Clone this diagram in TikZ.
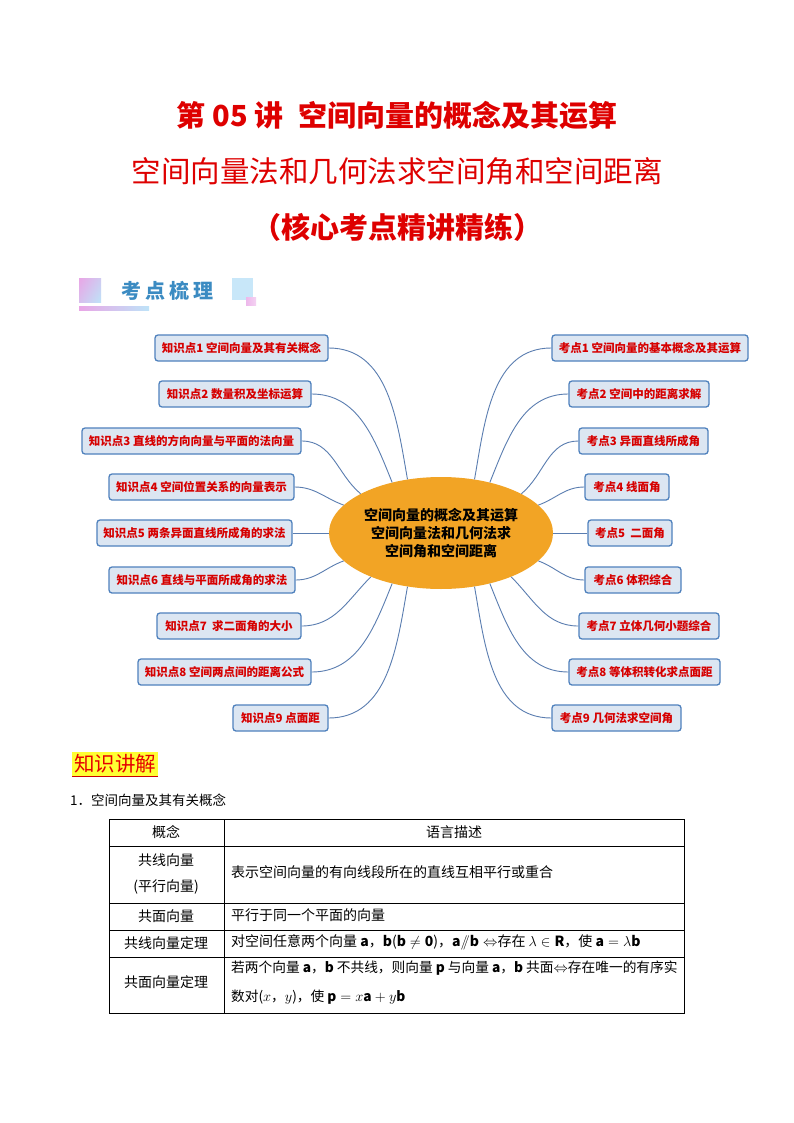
\documentclass[tikz,border=0pt]{standalone}
\usepackage{fontspec}
\setmainfont{Noto Sans CJK SC}
\newfontfamily\cjk{Noto Sans CJK SC}
\usetikzlibrary{shapes.geometric,shadings}
\definecolor{titlered}{RGB}{222,0,0}
\definecolor{boxred}{RGB}{214,0,0}
\definecolor{boxfill}{HTML}{DCE6F2}
\definecolor{boxblue}{HTML}{4F81BD}
\definecolor{connblue}{HTML}{5A7DB0}
\definecolor{ellorange}{HTML}{F2A425}
\definecolor{bannerblue}{HTML}{3B8BC2}
\definecolor{bpink}{HTML}{E9A6E6}
\definecolor{blight}{HTML}{BEE3F8}
\definecolor{hlyellow}{HTML}{FFFF33}
\tikzset{
  titletext/.style={text=titlered, font=\cjk\bfseries\fontsize{29}{34}\selectfont, inner sep=0pt},
  kbox/.style={draw=boxblue, fill=boxfill, line width=1.3pt, rounded corners=3pt,
    text=boxred, font=\cjk\bfseries\fontsize{11.5}{13}\selectfont, minimum height=26pt, inner sep=2pt},
  conn/.style={draw=connblue, line width=0.9pt},
  cell/.style={font=\cjk\fontsize{14}{16}\selectfont, inner sep=0pt},
  tline/.style={draw=black, line width=0.8pt}
}
\begin{document}
\begin{tikzpicture}[x=1pt,y=1pt]
\useasboundingbox (0,0) rectangle (794,-1123);
\fill[white] (0,0) rectangle (794,-1123);

% titles
\node[titletext] (t1) at (397,-115) {第 05 讲\hspace{0.5em}空间向量的概念及其运算};
\node[titletext, font=\cjk\fontsize{29.5}{36}\selectfont] (t2) at (397,-171) {空间向量法和几何法求空间角和空间距离};
\node[titletext] (t3) at (397,-227) {（核心考点精讲精练）};

% banner
\shade[upper left=bpink, lower right=blight, upper right=blight!60!bpink, lower left=bpink!60!blight] (79,-278) rectangle (101,-302);
\fill[blight!85!white] (232,-278) rectangle (253,-300);
\shade[left color=bpink!80, right color=bpink!50!white] (246,-297) rectangle (256,-305);
\shade[left color=bpink, right color=blight] (79,-306) rectangle (149,-310);
\node[text=bannerblue, font=\cjk\bfseries\fontsize{20}{24}\selectfont, inner sep=0pt] (kd) at (167,-291) {考\hspace{4pt}点\hspace{4pt}梳\hspace{4pt}理};

% central ellipse
\node[ellipse, fill=ellorange, minimum width=224pt, minimum height=112pt, inner sep=0pt, align=center,
  font=\cjk\bfseries\fontsize{14}{18}\selectfont] (e) at (441,-533)
  {空间向量的概念及其运算\\空间向量法和几何法求\\空间角和空间距离};

% left boxes
\node[kbox, minimum width=173pt] (L1) at (241.5,-348) {知识点1 空间向量及其有关概念};
\node[kbox, minimum width=152pt] (L2) at (235,-394) {知识点2 数量积及坐标运算};
\node[kbox, minimum width=219pt] (L3) at (191.5,-441) {知识点3 直线的方向向量与平面的法向量};
\node[kbox, minimum width=185pt] (L4) at (201.5,-487) {知识点4 空间位置关系的向量表示};
\node[kbox, minimum width=195pt] (L5) at (194.5,-533) {知识点5 两条异面直线所成角的求法};
\node[kbox, minimum width=186pt] (L6) at (202,-580) {知识点6 直线与平面所成角的求法};
\node[kbox, minimum width=144pt] (L7) at (229,-626) {知识点7\ \ 求二面角的大小};
\node[kbox, minimum width=173pt] (L8) at (224.5,-672) {知识点8 空间两点间的距离公式};
\node[kbox, minimum width=95pt] (L9) at (280.5,-718) {知识点9 点面距};

% right boxes
\node[kbox, minimum width=196pt] (R1) at (650,-348) {考点1 空间向量的基本概念及其运算};
\node[kbox, minimum width=140pt] (R2) at (639,-394) {考点2 空间中的距离求解};
\node[kbox, minimum width=129pt] (R3) at (643.5,-441) {考点3 异面直线所成角};
\node[kbox, minimum width=84pt] (R4) at (627,-487) {考点4 线面角};
\node[kbox, minimum width=84pt] (R5) at (630,-533) {考点5\ \ 二面角};
\node[kbox, minimum width=96pt] (R6) at (633,-580) {考点6 体积综合};
\node[kbox, minimum width=140pt] (R7) at (649,-626) {考点7 立体几何小题综合};
\node[kbox, minimum width=151pt] (R8) at (644.5,-672) {考点8 等体积转化求点面距};
\node[kbox, minimum width=129pt] (R9) at (616.5,-718) {考点9 几何法求空间角};

% connectors
\foreach \n/\a/\i in {L1/122/100, L2/134/112, L3/154/140, L4/164/160, L6/196/200, L7/212/225, L8/226/248, L9/238/260}
  \draw[conn] (\n.east) to[out=0,in=\i] (e.\a);
\draw[conn] (L5.east) -- (e.west);
\foreach \n/\a/\i in {R1/58/80, R2/46/68, R3/26/40, R4/16/20, R6/344/340, R7/328/315, R8/314/292, R9/302/280}
  \draw[conn] (\n.west) to[out=180,in=\i] (e.\a);
\draw[conn] (R5.west) -- (e.east);

% knowledge header
\node[fill=hlyellow, inner sep=0pt, text=red!90!black, font=\cjk\fontsize{20.5}{24}\selectfont, minimum width=86pt, minimum height=24pt] (zs) at (115,-764) {知识讲解};
\draw[red!80!black, line width=1.2pt] (zs.south west) -- (zs.south east);

\node[anchor=west, font=\cjk\fontsize{13.5}{16}\selectfont, inner sep=0pt] (i1) at (70,-800) {1．空间向量及其有关概念};

% table
\draw[tline] (109,-819) rectangle (684,-1013);
\draw[tline] (224,-819) -- (224,-1013);
\foreach \yy in {846,903,930,957} \draw[tline] (109,-\yy) -- (684,-\yy);

\node[cell] (h1) at (166,-832) {概念};
\node[cell] (h2) at (454,-832) {语言描述};
\node[cell, align=center, font=\cjk\fontsize{14}{26}\selectfont] (c21) at (166,-874) {共线向量\\(平行向量)};
\node[cell, anchor=west] (c22) at (231,-872) {表示空间向量的有向线段所在的直线互相平行或重合};
\node[cell] (c31) at (166,-916) {共面向量};
\node[cell, anchor=west] (c32) at (231,-915) {平行于同一个平面的向量};
\node[cell] (c41) at (166,-943) {共线向量定理};
\node[cell, anchor=west] (c42) at (231,-942) {对空间任意两个向量 $\mathbf{a}$，$\mathbf{b}$($\mathbf{b}\neq\mathbf{0}$)，$\mathbf{a}/\!\!/\mathbf{b}\Leftrightarrow$存在 $\lambda\in\mathbf{R}$，使 $\mathbf{a}=\lambda\mathbf{b}$};
\node[cell] (c51) at (166,-982) {共面向量定理};
\node[cell, anchor=west, align=left, font=\cjk\fontsize{13.7}{29}\selectfont] (c52) at (231,-983) {若两个向量 $\mathbf{a}$，$\mathbf{b}$ 不共线，则向量 $\mathbf{p}$ 与向量 $\mathbf{a}$，$\mathbf{b}$ 共面$\Leftrightarrow$存在唯一的有序实\\数对($x$，$y$)，使 $\mathbf{p}=x\mathbf{a}+y\mathbf{b}$};
\end{tikzpicture}
\end{document}
